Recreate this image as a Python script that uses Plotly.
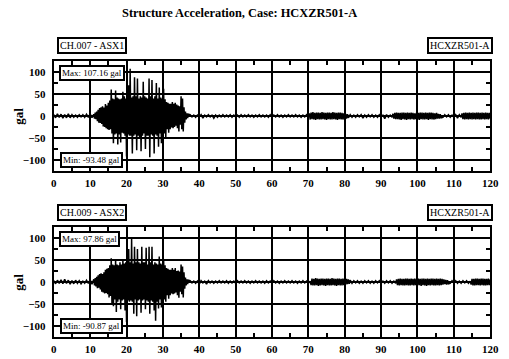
import plotly.graph_objects as go

W, H = 509, 359

# ---------------- data (gal) ----------------
# Each record is stored as segments: (start time s, sample step s, values)
# ---- CH.007 ----
ch007_pre = [3, -4, 5, -3, 4, -5, 3, -4, 5, -4,          # t 0.0 .. 10.5, step 0.5
             3, -3, 2, -3, 3, -2, 3, -3, 4, -3,
             5, -4]
ch007_strong = [4, -6, 8, -7, 10,                        # t 11.0 .. 37.0, step 0.2
                -12, 14, -15, 18, -16,
                20, -18, 22, -24, 19,
                -25, 27, -28, 24, -30,
                30, -32, 35, -30, 60,
                -40, 40, -62, 38, -42,
                58, -40, 42, -65, 40,
                -42, 38, -60, 40, -38,
                55, -40, 45, -45, 40,
                -92, 45, -42, 70, -45,
                107.16, -45, 42, -85, 45,
                -45, 88, -42, 45, -78,
                85, -45, 40, -48, 45,
                -80, 42, -45, 78, -40,
                45, -75, 42, -45, 40,
                -45, 85, -93.48, 45, -42,
                82, -45, 40, -85, 45,
                -42, 75, -45, 40, -70,
                65, -40, 42, -62, 40,
                -45, 62, -40, 38, -48,
                32, -30, 30, -38, 28,
                -30, 28, -26, 32, -28,
                28, -25, 30, -22, 26,
                -28, 24, -35, 22, -20,
                45, -30, 40, -35, 20,
                -15, 10, -8, 6, -5,
                4]
ch007_quiet_a = [3, -2, 2, -3, 2, -2, 3, -5, 2, -2,      # t 37.5 .. 70.0, step 0.5
                 3, -2, 2, -5, 2, -3, 2, -2, 3, -2,
                 2, -2, 3, -3, 2, -2, 2, -3, 3, -2,
                 2, -2, 3, -2, 2, -3, 2, -2, 3, -2,
                 2, -2, 2, -3, 3, -2, 2, -2, 3, -2,
                 2, -3, 2, -2, 3, -2, 2, -2, 3, -2,
                 2, -3, 2, -2, 3, -2]
ch007_band_b = [6, -8, 8, -7, 9, -8, 7, -9, 8, -7,       # t 70.25 .. 81.0, step 0.25
                8, -8, 7, -8, 9, -7, 8, -8, 7, -9,
                8, -7, 8, -8, 7, -8, 9, -7, 8, -8,
                7, -9, 8, -7, 8, -8, 7, -8, 6, -7,
                5, -6, 4, -4]
ch007_quiet_c = [3, -3, 2, -3, 3, -2, 3, -5, 2, -3,      # t 81.5 .. 93.0, step 0.5
                 3, -2, 3, -3, 2, -3, 3, -2, 2, -6,
                 3, -3, 2, -3]
ch007_band_d = [5, -6, 7, -7, 8, -7, 7, -8, 7, -9,       # t 93.25 .. 106.5, step 0.25
                8, -7, 8, -8, 7, -9, 8, -7, 7, -8,
                8, -7, 7, -8, 6, -7, 8, -8, 7, -9,
                8, -7, 8, -8, 7, -8, 8, -7, 7, -9,
                8, -7, 8, -8, 7, -8, 6, -7, 7, -6,
                5, -6, 4, -4]
ch007_quiet_e = [-3, 3, -2, 3, -3, 2, -3, 3, -5, 3, -3]  # t 107.0 .. 112.0, step 0.5
ch007_band_f = [6, -7, 7, -8, 8, -7, 7, -8, 8, -7,       # t 112.25 .. 120.0, step 0.25
                7, -8, 8, -7, 7, -8, 8, -7, 8, -8,
                7, -8, 8, -7, 7, -8, 8, -7, 7, -8,
                7, -6]

# ---- CH.009 ----
ch009_pre = [3, -4, 4, -3, 5, -4, 6, -3, 4, -5,          # t 0.0 .. 10.5, step 0.5
             3, -4, 4, -3, 3, -4, 2, -3, 4, -3,
             5, -5]
ch009_strong = [6, -8, 9, -10, 12,                       # t 11.0 .. 37.0, step 0.2
                -14, 15, -13, 18, -17,
                20, -22, 18, -24, 22,
                -26, 28, -25, 30, -28,
                32, -35, 38, -32, 54,
                -50, 40, -55, 38, -40,
                52, -68, 40, -45, 38,
                -40, 45, -62, 40, -42,
                50, -40, 42, -65, 45,
                -90.87, 45, -42, 75, -45,
                45, -42, 97.86, -45, 42,
                -72, 80, -40, 45, -78,
                75, -42, 45, -40, 42,
                -70, 80, -42, 45, -40,
                45, -62, 78, -42, 40,
                -45, 80, -72, 45, -42,
                80, -45, 40, -65, 45,
                -88, 42, -45, 40, -60,
                58, -40, 42, -58, 40,
                -50, 52, -40, 38, -45,
                32, -30, 30, -38, 28,
                -30, 28, -26, 32, -28,
                28, -26, 32, -24, 25,
                -30, 26, -36, 24, -22,
                40, -28, 35, -35, 22,
                -15, 10, -8, 6, -5,
                4]
ch009_quiet_a = [3, -2, 2, -3, 2, -5, 3, -2, 2, -5,      # t 37.5 .. 70.5, step 0.5
                 3, -2, 2, -3, 2, -2, 3, -2, 2, -2,
                 3, -3, 2, -2, 2, -3, 3, -2, 2, -2,
                 3, -2, 2, -3, 2, -2, 3, -2, 2, -2,
                 2, -3, 3, -2, 2, -2, 3, -2, 2, -3,
                 2, -2, 3, -2, 2, -2, 3, -2, 2, -3,
                 2, -2, 3, -2, 2, -3, 2]
ch009_band_b = [-7, 8, -8, 7, -8, 9, -7, 8, -9, 7,       # t 70.75 .. 81.5, step 0.25
                -8, 8, -7, 8, -8, 7, -9, 8, -7, 8,
                -8, 7, -8, 9, -7, 8, -8, 7, -9, 8,
                -7, 8, -8, 7, -8, 8, -7, 8, -6, 7,
                -5, 6, -4, 4]
ch009_quiet_c = [-3, 3, -2, 3, -3, 2, -3, 3, -2, 3,      # t 82.0 .. 94.0, step 0.5
                 -3, 2, -3, 3, -2, 3, -3, 2, -3, 3,
                 -2, 3, -3, 2, -3]
ch009_band_d = [6, -7, 7, -8, 8, -7, 7, -8, 7, -8,       # t 94.25 .. 108.5, step 0.25
                8, -7, 8, -8, 7, -8, 8, -7, 7, -8,
                8, -7, 7, -8, 8, -7, 7, -9, 8, -7,
                8, -8, 7, -9, 8, -7, 7, -8, 8, -7,
                8, -8, 7, -8, 8, -7, 7, -8, 8, -7,
                7, -6, 6, -5, 5, -6, 4, -4]
ch009_quiet_e = [-3, 3, -2, 3, -3, 2, -3, 3, -2, 3, -3, 2]  # t 109.0 .. 114.5, step 0.5
ch009_band_f = [-6, 7, -8, 7, -8, 8, -7, 8, -7, 7,       # t 114.75 .. 120.0, step 0.25
                -8, 8, -7, 8, -8, 7, -8, 7, -7, 8,
                -7, 6]

ch007_segments = [(0.0, 0.5, ch007_pre), (11.0, 0.2, ch007_strong),
                  (37.5, 0.5, ch007_quiet_a), (70.25, 0.25, ch007_band_b),
                  (81.5, 0.5, ch007_quiet_c), (93.25, 0.25, ch007_band_d),
                  (107.0, 0.5, ch007_quiet_e), (112.25, 0.25, ch007_band_f)]
ch009_segments = [(0.0, 0.5, ch009_pre), (11.0, 0.2, ch009_strong),
                  (37.5, 0.5, ch009_quiet_a), (70.75, 0.25, ch009_band_b),
                  (82.0, 0.5, ch009_quiet_c), (94.25, 0.25, ch009_band_d),
                  (109.0, 0.5, ch009_quiet_e), (114.75, 0.25, ch009_band_f)]

x_ticks = [0, 10, 20, 30, 40, 50, 60, 70, 80, 90, 100, 110, 120]
y_ticks = [-100, -50, 0, 50, 100]

title_text = "Structure Acceleration, Case: HCXZR501-A"
channels = ["CH.007 - ASX1", "CH.009 - ASX2"]
case_label = "HCXZR501-A"
maxmin = [("Max: 107.16 gal", "Min: -93.48 gal"), ("Max: 97.86 gal", "Min: -90.87 gal")]


def series(segments):
    t, a = [], []
    for t0, dt, vals in segments:
        t += [t0 + i * dt for i in range(len(vals))]
        a += list(vals)
    return t, a


SERIF = "Liberation Serif"
fig = go.Figure()
for k, segs in enumerate([ch007_segments, ch009_segments]):
    t, a = series(segs)
    fig.add_trace(go.Scatter(x=t, y=a, mode="lines",
                             line=dict(color="black", width=1.5),
                             xaxis="x" if k == 0 else "x2",
                             yaxis="y" if k == 0 else "y2",
                             showlegend=False, hoverinfo="skip"))


def px(x):
    return x / W


def py(y):
    return 1 - y / H


ax_common = dict(showline=True, linewidth=2, linecolor="black", mirror="ticks",
                 showgrid=True, gridcolor="black", gridwidth=2, zeroline=False,
                 ticks="inside", ticklen=4, tickwidth=2, tickcolor="black",
                 tickfont=dict(family=SERIF, size=11, color="black", weight="bold"),
                 fixedrange=True)

xdom = [px(52), px(499)]
ydoms = [[py(171), py(61)], [py(337), py(227)]]

layout_axes = {}
for k in range(2):
    sx = "" if k == 0 else "2"
    layout_axes["xaxis" + sx] = dict(ax_common, domain=xdom, range=[0, 120],
                                     tickvals=x_ticks, anchor="y" + sx,
                                     minor=dict(dtick=5, ticks="inside", ticklen=4,
                                                tickwidth=2, tickcolor="black",
                                                showgrid=False),
                                     ticklabelstandoff=1)
    layout_axes["yaxis" + sx] = dict(ax_common, domain=ydoms[k], range=[-125, 125],
                                     tickvals=y_ticks, anchor="x" + sx,
                                     minor=dict(dtick=25, ticks="inside", ticklen=4,
                                                tickwidth=2, tickcolor="black",
                                                showgrid=False),
                                     ticklabelstandoff=4)

ann = []
ann.append(dict(text="<b>" + title_text + "</b>", xref="paper", yref="paper",
                x=px(120), y=py(13), xanchor="left", yanchor="middle", showarrow=False,
                font=dict(family=SERIF, size=12.4, color="black")))
box_y = [45, 212]
plot_top = [61, 227]
plot_bot = [171, 337]
for k in range(2):
    ann.append(dict(text=channels[k], xref="paper", yref="paper",
                    x=px(55), y=py(box_y[k]), xanchor="left", yanchor="middle",
                    showarrow=False, font=dict(family=SERIF, size=10, color="black"),
                    bordercolor="black", borderwidth=2, borderpad=1, bgcolor="white"))
    ann.append(dict(text=case_label, xref="paper", yref="paper",
                    x=px(502), y=py(box_y[k]), xanchor="right", yanchor="middle",
                    showarrow=False, font=dict(family=SERIF, size=10, color="black"),
                    bordercolor="black", borderwidth=2, borderpad=1, bgcolor="white"))
    ann.append(dict(text=maxmin[k][0], xref="paper", yref="paper",
                    x=px(57), y=py(plot_top[k] + 12), xanchor="left", yanchor="middle",
                    showarrow=False, font=dict(family=SERIF, size=9, color="black"),
                    bordercolor="black", borderwidth=2, borderpad=1, bgcolor="white"))
    ann.append(dict(text=maxmin[k][1], xref="paper", yref="paper",
                    x=px(58), y=py(plot_bot[k] - 11), xanchor="left", yanchor="middle",
                    showarrow=False, font=dict(family=SERIF, size=9, color="black"),
                    bordercolor="black", borderwidth=2, borderpad=1, bgcolor="white"))
    ann.append(dict(text="<b>gal</b>", xref="paper", yref="paper",
                    x=px(15), y=py((plot_top[k] + plot_bot[k]) / 2), xanchor="center",
                    yanchor="middle", textangle=-90, showarrow=False,
                    font=dict(family=SERIF, size=13, color="black")))

fig.update_layout(width=W, height=H, margin=dict(l=0, r=0, t=0, b=0),
                  paper_bgcolor="white", plot_bgcolor="white",
                  annotations=ann, **layout_axes)

fig.write_html("out.html", include_plotlyjs=True, full_html=True,
               config=dict(displayModeBar=False))
